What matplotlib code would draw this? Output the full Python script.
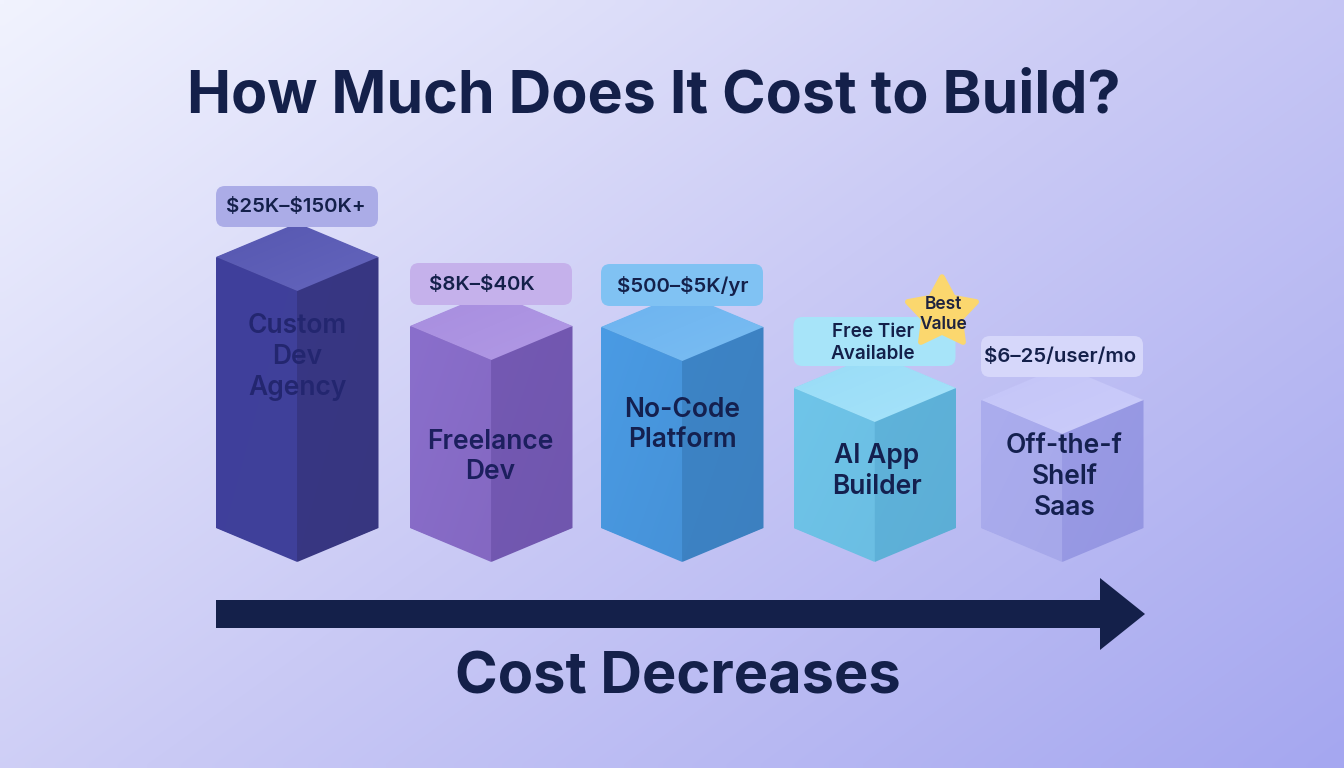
import numpy as np
import matplotlib
matplotlib.use("Agg")
import matplotlib.pyplot as plt
from matplotlib.patches import Polygon, FancyBboxPatch
from matplotlib.colors import to_rgb

plt.rcParams['font.family'] = ['Inter', 'DejaVu Sans']

# data
categories = ["Custom\nDev\nAgency", "Freelance\nDev", "No-Code\nPlatform", "AI App\nBuilder", "Off-the-f\nShelf\nSaas"]
price_labels = ["$25K–$150K+", "$8K–$40K", "$500–$5K/yr", "Free Tier\nAvailable", "$6–25/user/mo"]
bar_heights = [271, 202, 201, 140, 128]

# layout, in pixels of the 1344x768 picture
W, H = 1344, 768
bar_left = [216, 410, 601, 793.5, 981]
bar_width = 162.5
side_bottom = 528
rise = 34
name_y = [357, 457, 425, 471.5, 477]
name_dx = [0, -1, 0, 2, 2]
badge_h = [41, 42, 42, 49, 41]
badge_gap = [30, 21, 21, 22, 23]
price_x = [296, 482, 683, 873, 1060]

face_left = ["#3F3F9C", "#8A6FCC", "#4A9BE4", "#6FC5E9", "#ABADEE"]
face_left2 = ["#40419A", "#8468C2", "#4692D8", "#6BBEE3", "#A6A8EA"]
face_right = ["#383784", "#7459B3", "#3D84C6", "#5FB3DA", "#9A9BE5"]
face_right2 = ["#373680", "#7056AE", "#3C80C0", "#5CAED6", "#9496E2"]
face_top = ["#5657B0", "#A78DDF", "#6CB3EF", "#98DCF7", "#C4C5F8"]
face_top2 = ["#6465BD", "#B199E5", "#7ABDF3", "#A6E3FA", "#CBCCFA"]
badge_col = ["#ABACE7", "#C5B1EB", "#80C2F3", "#A7E4F9", "#D6D7FA"]
name_col = ["#23266F", "#1C1F5E", "#14204F", "#14204F", "#14204F"]
navy = "#14204A"

fig = plt.figure(figsize=(W / 100, H / 100), dpi=100)
ax = fig.add_axes([0, 0, 1, 1])
ax.set_xlim(0, W)
ax.set_ylim(H, 0)
ax.axis('off')

# background diagonal gradient
yy, xx = np.mgrid[0:1:96j, 0:1:168j]
t = (xx * 0.56 + yy * 0.44)[..., None]
c0, c1, c2 = [np.array(to_rgb(c)) for c in ("#F1F3FE", "#CACAF5", "#A5A7F0")]
bg = np.where(t < 0.5, c0 + (c1 - c0) * t / 0.5, c1 + (c2 - c1) * (t - 0.5) / 0.5)
ax.imshow(bg, extent=[0, W, H, 0], aspect='auto', interpolation='bilinear', zorder=0)


def grad_poly(pts, c_a, c_b, z=2):
    # polygon filled with a gradient running from top left to bottom right
    pts = np.array(pts)
    x0, y0 = pts.min(axis=0)
    x1, y1 = pts.max(axis=0)
    v, u = np.mgrid[0:1:40j, 0:1:40j]
    s = ((u + v) / 2)[..., None]
    a, b = np.array(to_rgb(c_a)), np.array(to_rgb(c_b))
    im = ax.imshow(a + (b - a) * s, extent=[x0, x1, y1, y0], aspect='auto',
                   interpolation='bilinear', zorder=z)
    p = Polygon(pts, closed=True, fc='none', ec='none', transform=ax.transData)
    ax.add_patch(p)
    im.set_clip_path(p)


for i, name in enumerate(categories):
    l = bar_left[i]
    r = l + bar_width
    m = l + bar_width / 2
    sh = side_bottom - bar_heights[i]
    # backing shape so no light seam shows between the faces
    ax.add_patch(Polygon([(l + 1, sh), (m, sh - rise + 1), (r - 1, sh), (r - 1, side_bottom),
                          (m, side_bottom + rise - 1), (l + 1, side_bottom)],
                         closed=True, fc=face_right[i], ec='none', zorder=1))
    grad_poly([(l, sh), (m, sh + rise), (m, side_bottom + rise), (l, side_bottom)], face_left[i], face_left2[i])
    grad_poly([(m, sh + rise), (r, sh), (r, side_bottom), (m, side_bottom + rise)], face_right[i], face_right2[i])
    grad_poly([(l, sh), (m, sh - rise), (r, sh), (m, sh + rise)], face_top[i], face_top2[i])

    # price badge sits on the top of the block
    b_bottom = sh - badge_gap[i]
    b_top = b_bottom - badge_h[i]
    ax.add_patch(FancyBboxPatch((l + 8, b_top + 8), bar_width - 16.5, badge_h[i] - 16,
                                boxstyle="round,pad=8,rounding_size=9", fc=badge_col[i], ec='none', zorder=3))
    if i == 3:
        ax.text(price_x[i], (b_top + b_bottom) / 2 + 1.5, price_labels[i], ha='center', va='center', fontsize=13.6,
                fontweight='semibold', color=navy, linespacing=1.25, zorder=6, parse_math=False)
    else:
        ax.text(price_x[i], (b_top + b_bottom) / 2 + 1, price_labels[i], ha='center', va='center', fontsize=14.7,
                fontweight='semibold', color=navy, zorder=4, parse_math=False)

    ax.text(m + name_dx[i], name_y[i], name, ha='center', va='center', fontsize=19,
            fontweight='semibold', color=name_col[i], linespacing=1.24, zorder=4)

# star on the AI builder
cx, cy, ro, ri = 942, 313, 36, 19
ang = np.deg2rad(-90 + 36 * np.arange(10))
rad = np.where(np.arange(10) % 2 == 0, ro, ri)
ax.add_patch(Polygon(np.c_[cx + rad * np.cos(ang), cy + rad * np.sin(ang)], closed=True, fc="#FBD76E",
                     ec="#FBD76E", lw=4, joinstyle='round', zorder=5))
ax.text(943, 314.5, "Best\nValue", ha='center', va='center', fontsize=12.5, fontweight='semibold',
        color="#1E2340", linespacing=1.25, zorder=6)

# cost arrow
ax.add_patch(Polygon([(216, 600), (1100, 600), (1100, 578), (1145, 614), (1100, 650), (1100, 628), (216, 628)],
                     closed=True, fc=navy, ec='none', zorder=2))

ax.text(654, 97, "How Much Does It Cost to Build?", ha='center', va='center', fontsize=42.5,
        fontweight='bold', color=navy)
ax.text(678, 679, "Cost Decreases", ha='center', va='center', fontsize=41.6, fontweight='bold', color=navy)

fig.savefig("out.png", dpi=100)
